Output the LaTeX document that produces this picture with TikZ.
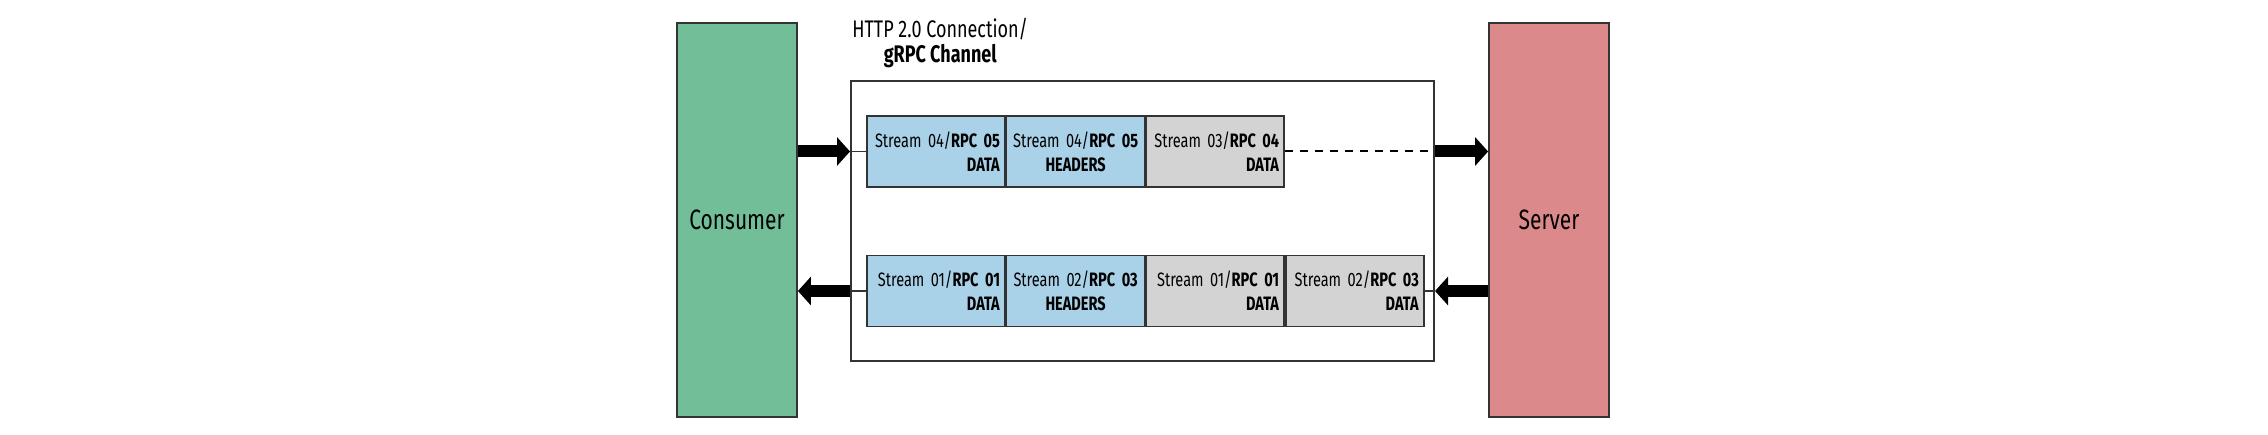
\documentclass[tikz,border=0pt]{standalone}
\usepackage{fontspec}
\setmainfont{Fira Sans}[FakeStretch=0.75]
\usetikzlibrary{positioning}
\usetikzlibrary{arrows.meta}

\definecolor{consumergreen}{HTML}{72BE99}
\definecolor{serverred}{HTML}{DC898B}
\definecolor{frameblue}{HTML}{A9D1E7}
\definecolor{framegray}{HTML}{D3D3D3}
\definecolor{edgegray}{HTML}{333333}

\tikzset{
  endpoint/.style={draw=edgegray,line width=0.9pt,minimum width=60pt,minimum height=197pt,inner sep=0pt,font=\fontsize{14}{16}\selectfont},
  frame/.style={draw=edgegray,line width=0.8pt,minimum width=69pt,minimum height=35.5pt,inner sep=0pt,text width=64pt,font=\fontsize{9.7}{12}\selectfont},
  dataframe/.style={frame,align=right},
  headframe/.style={frame,align=center},
  bigarrow/.style={line width=6pt,-{Triangle[length=6.5pt,width=14pt]}},
  thinline/.style={draw=edgegray,line width=0.9pt},
}

\begin{document}
\begin{tikzpicture}[x=0.5pt,y=0.5pt]
\useasboundingbox (0,0) rectangle (2268,434);

\node[endpoint,fill=consumergreen](consumer) at (737,214){Consumer};
\node[endpoint,fill=serverred](server) at (1549,214){Server};
\node[draw=edgegray,line width=1pt,minimum width=291.5pt,minimum height=140pt](channel) at (1142.5,213){};
\node[above right=6pt and 1pt of channel.north west,align=center,inner sep=0pt,font=\fontsize{12}{12.5}\selectfont](title){HTTP 2.0 Connection/\\{\bfseries gRPC Channel}};

% outgoing frames
\node[dataframe,fill=frameblue](a1) at (936,282.5){Stream~04/\textbf{RPC~05}\\\textbf{DATA}};
\node[headframe,fill=frameblue,right=0pt of a1](a2){Stream~04/\textbf{RPC~05}\\\textbf{HEADERS}};
\node[dataframe,fill=framegray,right=0pt of a2](a3){Stream~03/\textbf{RPC~04}\\\textbf{DATA}};

% incoming frames
\node[dataframe,fill=frameblue](b1) at (936,143){Stream~01/\textbf{RPC~01}\\\textbf{DATA}};
\node[headframe,fill=frameblue,right=0pt of b1](b2){Stream~02/\textbf{RPC~03}\\\textbf{HEADERS}};
\node[dataframe,fill=framegray,right=0pt of b2](b3){Stream~01/\textbf{RPC~01}\\\textbf{DATA}};
\node[dataframe,fill=framegray,right=0pt of b3](b4){Stream~02/\textbf{RPC~03}\\\textbf{DATA}};

\coordinate (consA) at (consumer.east |- a1);
\coordinate (chanInA) at (channel.west |- a1);
\coordinate (chanOutA) at (channel.east |- a3);
\coordinate (servA) at (server.west |- a3);
\coordinate (servB) at (server.west |- b4);
\coordinate (chanInB) at (channel.east |- b4);
\coordinate (chanOutB) at (channel.west |- b1);
\coordinate (consB) at (consumer.east |- b1);

\path
(consA) edge[bigarrow] (chanInA)
(chanInA) edge[thinline] (a1)
(a3) edge[thinline,draw=black,line width=1pt,dash pattern=on 4pt off 3.5pt] (chanOutA)
(chanOutA) edge[bigarrow] (servA)
(servB) edge[bigarrow] (chanInB)
(b4) edge[thinline] (chanInB)
(b1) edge[thinline] (chanOutB)
(chanOutB) edge[bigarrow] (consB);
\end{tikzpicture}
\end{document}
